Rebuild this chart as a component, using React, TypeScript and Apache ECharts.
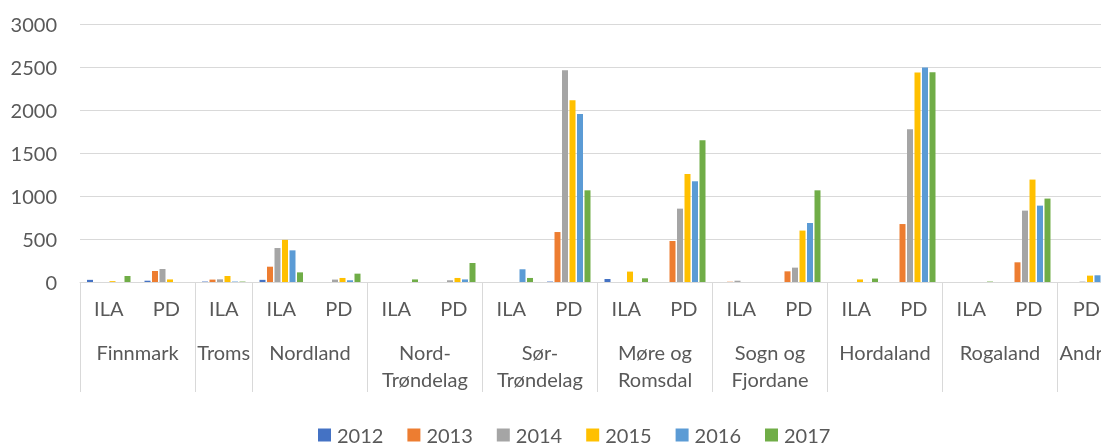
import React, { useEffect, useRef } from "react";
import * as echarts from "echarts";

const subCategories = ["ILA", "PD", "ILA", "ILA", "PD", "ILA", "PD", "ILA", "PD", "ILA", "PD", "ILA", "PD", "ILA", "PD", "ILA", "PD", "PD"];
const groupNames = ["Finnmark", "Troms", "Nordland", "Nord-\nTrøndelag", "Sør-\nTrøndelag", "Møre og\nRomsdal", "Sogn og\nFjordane", "Hordaland", "Rogaland", "Andre"];
const groupSizes = [2, 1, 2, 2, 2, 2, 2, 2, 2, 1];
const years = ["2012", "2013", "2014", "2015", "2016", "2017"];
const colors = ["#4472C4", "#ED7D31", "#A5A5A5", "#FFC000", "#5B9BD5", "#70AD47"];

const v2012 = [25, 15, 5, 25, 0, 0, 0, 0, 5, 35, 0, 0, 0, 0, 0, 0, 0, 0];
const v2013 = [0, 128, 28, 178, 0, 0, 0, 0, 581, 0, 477, 3, 124, 0, 674, 0, 229, 0];
const v2014 = [0, 151, 31, 395, 28, 0, 20, 0, 2462, 0, 853, 15, 167, 0, 1776, 0, 830, 5];
const v2015 = [10, 30, 70, 490, 47, 0, 47, 0, 2113, 121, 1256, 0, 598, 30, 2435, 0, 1191, 74];
const v2016 = [0, 0, 5, 368, 20, 0, 30, 148, 1954, 0, 1171, 0, 686, 0, 2493, 0, 888, 78];
const v2017 = [70, 0, 5, 112, 97, 30, 221, 47, 1066, 43, 1648, 0, 1066, 40, 2439, 5, 970, 0];
const seriesValues = [v2012, v2013, v2014, v2015, v2016, v2017];

const FONT = "Lato";
const TXT = "#595959";
const LINE = "#D9D9D9";

export default function App() {
  const ref = useRef<HTMLDivElement>(null);
  useEffect(() => {
    if (!ref.current) return;
    const chart = echarts.init(ref.current, undefined, { renderer: "svg" });
    const boundaries: number[] = [0];
    const centers: number[] = [];
    let acc = 0;
    groupSizes.forEach((s) => {
      centers.push(acc + s / 2);
      acc += s;
      boundaries.push(acc);
    });
    const total = acc;
    const nameAt = (v: number) => {
      const i = centers.findIndex((c) => Math.abs(c - v) < 1e-6);
      return i >= 0 ? groupNames[i] : "";
    };
    chart.setOption({
      animation: false,
      textStyle: { fontFamily: FONT },
      grid: { left: 80, top: 24, width: 1035, height: 258, outerBoundsMode: "none", containLabel: false },
      legend: {
        data: years,
        left: 318,
        top: 425,
        padding: 0,
        itemWidth: 13,
        itemHeight: 13,
        itemGap: 24,
        icon: "rect",
        textStyle: { fontFamily: FONT, fontSize: 20, color: TXT, padding: [0, 0, 0, 1] },
      },
      xAxis: [
        {
          type: "category",
          data: subCategories,
          position: "bottom",
          axisLine: { lineStyle: { color: LINE, width: 1 } },
          axisTick: { show: false },
          axisLabel: { fontFamily: FONT, fontSize: 20, color: TXT, margin: 14, lineHeight: 24, interval: 0 },
        },
        {
          type: "value",
          min: 0,
          max: total,
          position: "bottom",
          axisLine: { show: false },
          splitLine: { show: false },
          axisTick: {
            show: true,
            customValues: boundaries,
            length: 110,
            lineStyle: { color: LINE, width: 1 },
          },
          axisLabel: {
            customValues: centers,
            formatter: (v: number) => nameAt(v),
            fontFamily: FONT,
            fontSize: 20,
            color: TXT,
            margin: 56,
            lineHeight: 27,
            align: "center",
          },
        },
      ],
      yAxis: {
        type: "value",
        min: 0,
        max: 3000,
        interval: 500,
        axisLine: { show: false },
        axisTick: { show: false },
        splitLine: { lineStyle: { color: LINE, width: 1 } },
        axisLabel: { fontFamily: FONT, fontSize: 20, color: TXT, margin: 23, formatter: (v: number) => String(v) },
      },
      series: years.map((y, i) => ({
        name: y,
        type: "bar",
        xAxisIndex: 0,
        data: seriesValues[i],
        barWidth: 6,
        barGap: "25%",
        itemStyle: { color: colors[i] },
      })),
    });
    return () => chart.dispose();
  }, []);
  return <div ref={ref} style={{ position: "fixed", left: 0, top: 0, width: 1101, height: 445 }} />;
}
